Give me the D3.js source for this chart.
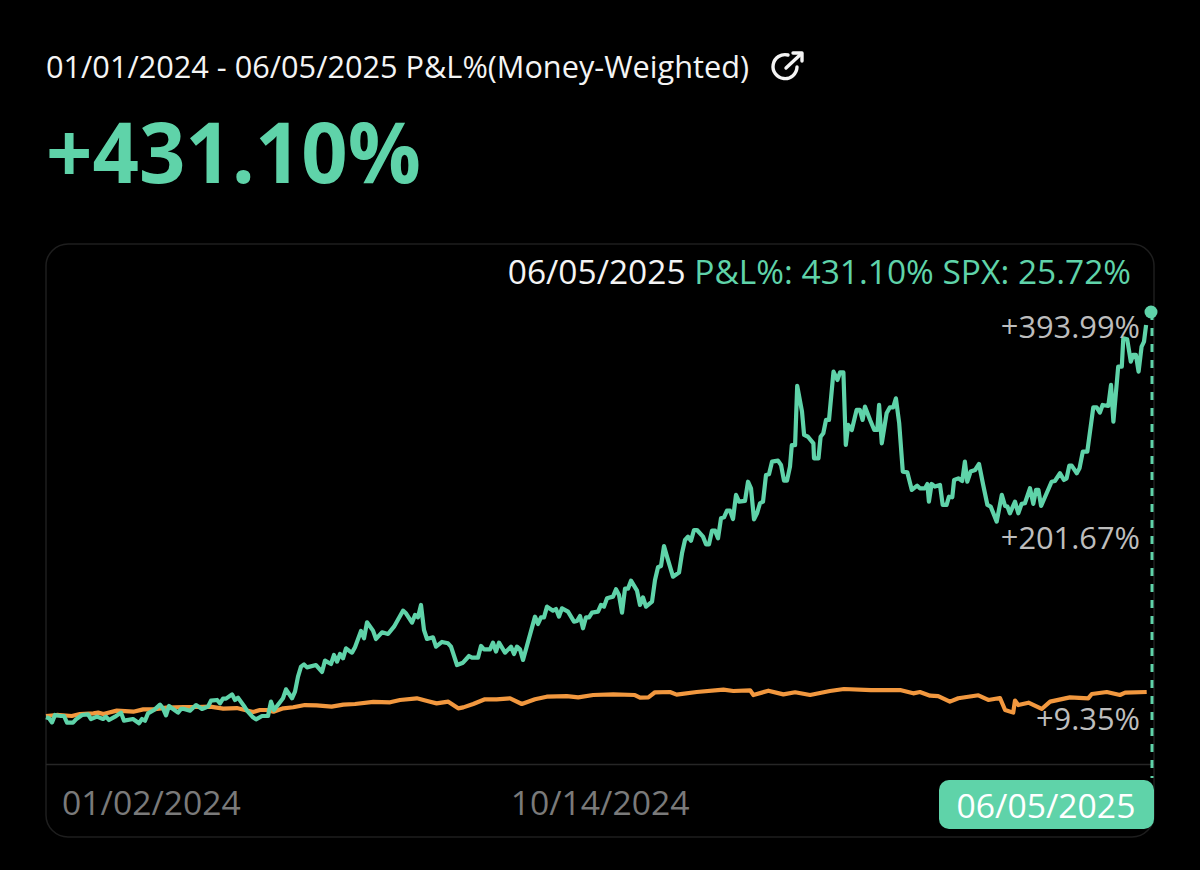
<!DOCTYPE html>
<html>
<head>
<meta charset="utf-8">
<style>
    html, body { margin: 0; padding: 0; background: #000; overflow: hidden; }
    text { font-family: "Open Sans", sans-serif; }
</style>
</head>
<body>
<div id="chart"></div>
<script src="https://cdn.jsdelivr.net/npm/d3@7"></script>
<script>
    var periodTitle = '01/01/2024 - 06/05/2025 P&L%(Money-Weighted)';
    var headline = '+431.10%';
    var readoutDate = '06/05/2025';
    var readoutValues = 'P&L%: 431.10% SPX: 25.72%';

    // session position on the x axis, and P&L %
    var pnlDays = [0,1,2,3,5,6,7,9,10,12,14,15,17,19,20,21,23,25,26,29,31,32,33,34,36,38,39,40,41,42,44,45,46,48,50,52,54,55,57,58,59,60,62,63,64,66,67,69,70,72,74,75,76,79,80,82,83,84,85,86,87,90,92,93,95,96,97,98,99,100,101,102,103,105,106,107,109,110,112,114,116,119,120,122,123,124,125,126,127,129,130,132,134,135,137,139,141,142,144,145,146,148,149,150,151,153,155,156,157,158,159,163,164,165,166,167,169,170,171,172,174,176,177,178,179,180,181,182,184,185,186,187,189,190,191,192,193,194,195,197,198,199,200,202,203,204,205,206,207,209,211,212,213,214,215,216,217,219,220,221,222,223,224,225,226,227,228,229,230,231,233,234,235,236,237,238,239,240,241,242,244,245,246,247,248,248.6,249.7,250.4,252,252.7,254,255.8,256,257.5,258.2,259.1,260,261,262.5,263.8,264.7,265.8,266.6,267.4,268.6,270.2,271.3,272.2,273,274.7,276.1,277.1,277.7,278.6,280.2,281.3,282.4,283.3,284.4,285.6,287.1,288.6,290.4,291.3,293,293.8,294.3,295.2,296.3,298,298.9,300.2,301,302.1,302.7,304.1,305.4,306.3,307.1,308.2,309.7,311,312.4,313.8,314.9,316.9,318.6,319.7,320.5,321.3,323,324.1,325.2,326.3,328,329.1,330,330.8,331.7,335.2,336.3,338,339.3,340.2,341.1,341.9,343.6,344.5,345.6,347.1,349.1,350.2,351.3,352.2,354.1,355,355.8,357.4,358.6,359.1,360.4,361.6,362.4,363.3,364.2,365.2,366,366.7];
    var pnlValues = [-1.4,-2.5,-6.8,1.1,0,0,-7.1,-7.1,-3.6,1.1,1.8,-3.2,-0.7,-3.2,-0.7,-4.3,-0.7,3.6,-5,-3.2,-7.8,-3.2,-5,2.8,6.4,12.1,8.2,0.7,10.7,8.2,3.6,7.5,7.5,5.7,11.7,7.5,10,16.4,17.1,13.5,18.5,18.5,23.1,17.1,19.6,10.7,5.7,-1.4,-3.6,0,0,15.3,6.4,18.9,28.5,18.9,26,42,52.7,55.1,51.9,54.4,47,59.1,55.5,65.1,58,66.2,61.5,72.2,69.7,67.6,73.3,90.7,82.9,100,91.1,82.2,89.3,87.5,95.3,112.4,109.6,99.6,107.8,105.3,118.5,91.8,82.2,84,74,79,77.6,74,54.4,56.9,64,62.3,62.3,74.7,71.1,71.1,78.3,68.7,78.3,67.6,74,66.2,74,71.1,59.8,106,98.2,105.3,105.3,116.7,112.4,114.2,106,114.9,111.3,100.7,101.4,106.7,93.6,105.3,105.3,110.3,111.3,118.5,116.7,125.6,127.4,135.2,129.1,110.3,135.9,135.9,144.4,133.8,118.5,126.6,116.7,122,145.1,158.7,160.1,181.4,170,148.7,153,173.6,187.8,191.4,187.1,198.5,198.5,191.4,183.2,183.2,197.8,197.8,189.6,211,212,219.1,219.1,210.2,235.9,228.7,229.5,250,243,209.9,216.3,227,228.7,257.2,257.9,271.4,272.5,267.9,251.2,251.2,266.1,289,289,352.2,324.8,299.9,298,291,275,275,298,301.7,315.9,315.9,367.5,358.6,366.8,366.8,289.2,310.6,305.2,326.6,326.6,315.9,330.1,315.9,305.2,305.2,331.9,291,323,329.4,329.4,339,312.3,260.8,260,241.2,245.8,243,243,247.6,228.7,247.6,244.8,246.5,225.2,225.2,234,233.4,251.9,253.6,250.8,271.4,250,260.8,262.5,268.9,246.5,225.2,223.4,207.4,235.9,224.1,223.4,216.3,228.7,216.3,226.3,227,243,226.3,241.2,241.2,224.1,250,250.8,259,251.9,253.6,267.2,267.2,259,264.3,282.1,282.1,329.4,329.4,323.7,331.9,330.8,353.3,314.1,372.8,372.8,403,402,378.2,385.3,385.3,367.5,394.2,399.5,417.3];

    var spxDays = [0,3.6,8.6,11.3,15.8,17.4,19.1,23.6,29.1,32.4,35.8,40.2,45.8,50.2,54.7,59.1,63.6,66.3,69.1,71.3,73.6,75.8,79.1,82.4,86.3,90.2,95.2,99.1,103,109.1,114.7,118,123.6,127.4,130.2,134.1,137.4,139.1,142.4,146.3,150.2,154.7,158.6,163,166.9,173.6,177.4,182.4,189.1,196.3,198,200.8,203,208,210.2,216.9,225.8,229.1,234.7,235.8,240.8,245.8,249.7,254.7,261.3,266,275,284.7,289.1,291.3,294.7,297.4,301.3,304.1,310.8,314.1,318,319.7,322.4,323,324.1,327.5,331.9,334.7,341.3,347.4,348.6,353.6,358,359.7,366.9];
    var spxValues = [0,1.1,0,2.1,2.8,3.6,2.1,5.7,4.6,7.1,7.1,8.9,9.6,9.6,10,7.8,8.5,6.4,4.3,6.4,6.4,4.6,8.2,9.3,11.7,11.4,10,12.1,12.8,15,14.6,17.1,18.9,15.7,13.5,15.3,8.2,9.2,12.8,17.8,17.8,18.9,12.8,17.8,20.6,21.3,19.9,22.4,23.1,22.4,19.6,19.9,25.3,25.6,22.8,25.6,28.1,26.7,27.4,22.4,27,23.1,25.3,22.4,26.7,28.8,27.7,27.7,24.2,25.6,21.7,21.3,15.3,18.9,22.1,17.1,19.2,6.4,3.6,16.4,11.7,14.2,7.5,15.3,19.9,18.9,23.5,25.6,22.4,24.9,25.6];

    var lastDay = 368;
    var lastPnl = 431.10;

    var yLabels = ['+393.99%', '+201.67%', '+9.35%'];
    var yLabelValues = [393.99, 201.67, 9.35];
    var xLabels = ['01/02/2024', '10/14/2024', '06/05/2025'];
    var xLabelDays = [0, 184.7, 368];

    var green = '#5fd3a9', orange = '#f2983f';

    var svg = d3.select('#chart').append('svg')
        .attr('width', 1200)
        .attr('height', 870)
        .style('display', 'block');

    var x = d3.scaleLinear().domain([0, lastDay]).range([46, 1150]);
    var y = d3.scaleLinear().domain([0, lastPnl]).range([716, 312]);

    // card around the chart
    svg.append('rect')
        .attr('x', 46).attr('y', 244)
        .attr('width', 1108).attr('height', 593)
        .attr('rx', 22)
        .attr('fill', '#000')
        .attr('stroke', '#1e1e1e')
        .attr('stroke-width', 1.5);

    svg.append('line')
        .attr('x1', 46).attr('x2', 1154)
        .attr('y1', 764.5).attr('y2', 764.5)
        .attr('stroke', '#262626')
        .attr('stroke-width', 1.5);

    // header
    svg.append('text')
        .attr('x', 46).attr('y', 78)
        .attr('fill', '#f4f4f4')
        .attr('font-size', 30.7)
        .text(periodTitle);

    var icon = svg.append('g')
        .attr('fill', 'none')
        .attr('stroke', '#f4f4f4')
        .attr('stroke-width', 3.4)
        .attr('stroke-linecap', 'round')
        .attr('stroke-linejoin', 'round');
    icon.append('path').attr('d', 'M788,55 A12,12 0 1 0 797,67');
    icon.append('path').attr('d', 'M786,68 L801,54');
    icon.append('path').attr('d', 'M793,53 L802,53 L802,61');

    svg.append('text')
        .attr('x', 46).attr('y', 183)
        .attr('fill', green)
        .attr('font-size', 84)
        .attr('font-weight', 700)
        .attr('textLength', 375)
        .attr('lengthAdjust', 'spacingAndGlyphs')
        .text(headline);

    // readout line, right aligned
    var readout = svg.append('text')
        .attr('x', 1131).attr('y', 284)
        .attr('text-anchor', 'end')
        .attr('font-size', 33.5);
    readout.append('tspan').attr('fill', '#f4f4f4').text(readoutDate + ' ');
    readout.append('tspan').attr('fill', green).text(readoutValues);

    // series
    function drawLine(days, values, colour) {
        var line = d3.line()
            .x(function(d, i){ return x(days[i]); })
            .y(function(d){ return y(d); });
        svg.append('path')
            .datum(values)
            .attr('class', 'line')
            .attr('fill', 'none')
            .attr('stroke', colour)
            .attr('stroke-width', 4.2)
            .attr('stroke-linejoin', 'round')
            .attr('d', line);
    }
    drawLine(spxDays, spxValues, orange);
    drawLine(pnlDays, pnlValues, green);

    // crosshair and end dot
    svg.append('line')
        .attr('x1', x(lastDay) + 2).attr('x2', x(lastDay) + 2)
        .attr('y1', y(lastPnl)).attr('y2', 778)
        .attr('stroke', green)
        .attr('stroke-width', 3)
        .attr('stroke-dasharray', '8,8');

    svg.append('circle')
        .attr('cx', x(lastDay) + 1).attr('cy', y(lastPnl))
        .attr('r', 6.5)
        .attr('fill', green);

    // value labels sit just off the level they name
    var yLabelShift = [-9, 22, 23];
    svg.selectAll('text.ylabel')
        .data(yLabels)
        .enter().append('text')
        .attr('class', 'ylabel')
        .attr('x', 1140)
        .attr('y', function(d, i){ return y(yLabelValues[i]) + yLabelShift[i]; })
        .attr('text-anchor', 'end')
        .attr('fill', '#bdbdbd')
        .attr('font-size', 30.8)
        .text(function(d){ return d; });

    // x labels: first two grey, last one in the pill
    svg.append('text')
        .attr('x', x(xLabelDays[0]) + 16).attr('y', 815)
        .attr('fill', '#7a7a7a')
        .attr('font-size', 33.7)
        .text(xLabels[0]);

    svg.append('text')
        .attr('x', x(xLabelDays[1])).attr('y', 815)
        .attr('text-anchor', 'middle')
        .attr('fill', '#7a7a7a')
        .attr('font-size', 33.7)
        .text(xLabels[1]);

    svg.append('rect')
        .attr('x', 939).attr('y', 780)
        .attr('width', 215).attr('height', 49)
        .attr('rx', 10)
        .attr('fill', green);

    svg.append('text')
        .attr('x', 1046).attr('y', 818)
        .attr('text-anchor', 'middle')
        .attr('fill', '#fff')
        .attr('font-size', 33.7)
        .text(xLabels[2]);
</script>
</body>
</html>
